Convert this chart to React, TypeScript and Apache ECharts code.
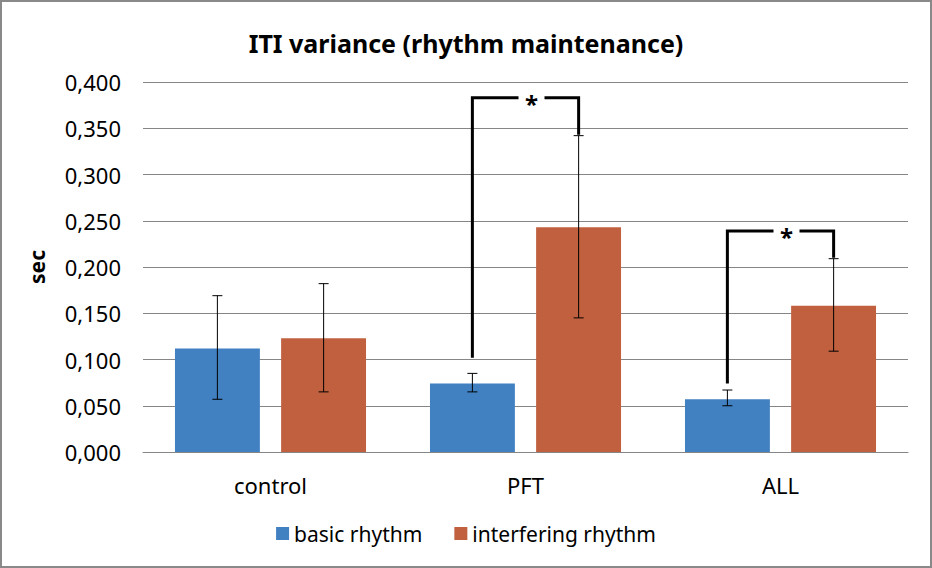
import { useEffect, useRef } from 'react'
import * as echarts from 'echarts'

const categories = ['control', 'PFT', 'ALL']
const seriesNames = ['basic rhythm', 'interfering rhythm']
const basicValues = [0.112, 0.074, 0.057]
const interferingValues = [0.123, 0.243, 0.158]
const basicLow = [0.057, 0.065, 0.05]
const basicHigh = [0.169, 0.085, 0.067]
const interferingLow = [0.065, 0.145, 0.109]
const interferingHigh = [0.182, 0.342, 0.209]

// significance brackets: category, left foot, top, right foot
const bracketCats = [1, 2]
const bracketLeft = [0.102, 0.074]
const bracketTop = [0.383, 0.239]
const bracketRight = [0.343, 0.21]

const BLUE = '#4180c1'
const ORANGE = '#c0603f'
const FONT = 'Noto Sans'

export default function App() {
  const chartRef = useRef<HTMLDivElement>(null)

  useEffect(() => {
    document.body.style.margin = '0'
    if (!chartRef.current) return
    const chart = echarts.init(chartRef.current, undefined, { renderer: 'svg' })

    // half distance between the centres of the two bars in a category
    const barOffset = (api: any) => (api.size([1, 0])[0] * (1 / 3) * 1.25) / 2

    const errorData: number[][] = []
    categories.forEach((_, i) => {
      errorData.push([i, basicLow[i], basicHigh[i], -1])
      errorData.push([i, interferingLow[i], interferingHigh[i], 1])
    })

    const bracketData = bracketCats.map((c, i) => [c, bracketLeft[i], bracketTop[i], bracketRight[i]])

    const option: echarts.EChartsOption = {
      animation: false,
      textStyle: { fontFamily: FONT },
      title: {
        text: 'ITI variance (rhythm maintenance)',
        left: 'center',
        top: 25,
        textStyle: { fontFamily: FONT, fontSize: 25, fontWeight: 'bold', color: '#000' }
      },
      graphic: [
        {
          type: 'rect',
          shape: { x: 1, y: 1, width: 930, height: 566 },
          style: { fill: 'none', stroke: '#898989', lineWidth: 2 },
          silent: true
        }
      ],
      legend: {
        data: seriesNames,
        left: 'center',
        top: 518,
        itemWidth: 13,
        itemHeight: 13,
        itemGap: 32,
        icon: 'rect',
        textStyle: { fontFamily: FONT, fontSize: 21, color: '#000' }
      },
      grid: { left: 143, right: 24, top: 82, bottom: 116 },
      xAxis: {
        type: 'category',
        data: categories,
        axisLine: { lineStyle: { color: '#868686' } },
        axisTick: { show: false },
        axisLabel: { margin: 22, fontSize: 22, color: '#000', fontFamily: FONT }
      },
      yAxis: {
        type: 'value',
        min: 0,
        max: 0.4,
        interval: 0.05,
        name: 'sec',
        nameLocation: 'middle',
        nameGap: 96,
        nameTextStyle: { fontFamily: FONT, fontSize: 21, fontWeight: 'bold', color: '#000' },
        axisLabel: {
          margin: 22,
          fontSize: 22,
          color: '#000',
          fontFamily: FONT,
          formatter: (v: number) => v.toFixed(3).replace('.', ',')
        },
        splitLine: { lineStyle: { color: '#868686' } }
      },
      series: [
        {
          name: seriesNames[0],
          type: 'bar',
          data: basicValues,
          barWidth: '33.3%',
          barGap: '25%',
          itemStyle: { color: BLUE }
        },
        {
          name: seriesNames[1],
          type: 'bar',
          data: interferingValues,
          barWidth: '33.3%',
          barGap: '25%',
          itemStyle: { color: ORANGE }
        },
        {
          type: 'custom',
          name: 'error',
          silent: true,
          z: 5,
          data: errorData,
          renderItem: (params: any, api: any) => {
            const c = api.value(0)
            const side = api.value(3)
            const lo = api.coord([c, api.value(1)])
            const hi = api.coord([c, api.value(2)])
            const x = lo[0] + side * barOffset(api)
            const cap = 5
            const style = { stroke: '#000', lineWidth: 1 }
            return {
              type: 'group',
              children: [
                { type: 'line', shape: { x1: x, y1: hi[1], x2: x, y2: lo[1] }, style },
                { type: 'line', shape: { x1: x - cap, y1: hi[1], x2: x + cap, y2: hi[1] }, style },
                { type: 'line', shape: { x1: x - cap, y1: lo[1], x2: x + cap, y2: lo[1] }, style }
              ]
            }
          }
        },
        {
          type: 'custom',
          name: 'significance',
          silent: true,
          z: 6,
          data: bracketData,
          renderItem: (params: any, api: any) => {
            const c = api.value(0)
            const left = api.coord([c, api.value(1)])
            const top = api.coord([c, api.value(2)])
            const right = api.coord([c, api.value(3)])
            const off = barOffset(api)
            const xl = left[0] - off
            const xr = left[0] + off
            const xs = left[0] + 6
            const gap = 13
            const style = { stroke: '#000', lineWidth: 3, fill: 'none' }
            return {
              type: 'group',
              children: [
                {
                  type: 'polyline',
                  shape: { points: [[xl, left[1]], [xl, top[1]], [xs - gap, top[1]]] },
                  style
                },
                {
                  type: 'polyline',
                  shape: { points: [[xs + gap, top[1]], [xr, top[1]], [xr, right[1]]] },
                  style
                },
                {
                  type: 'text',
                  x: xs,
                  y: top[1] + 6,
                  style: {
                    text: '*',
                    fontFamily: FONT,
                    fontSize: 24,
                    fontWeight: 'bold',
                    fill: '#000',
                    align: 'center',
                    verticalAlign: 'middle'
                  }
                }
              ]
            }
          }
        }
      ]
    }

    chart.setOption(option)

    return () => {
      chart.dispose()
    }
  }, [])

  return <div ref={chartRef} style={{ width: 932, height: 568 }} />
}
